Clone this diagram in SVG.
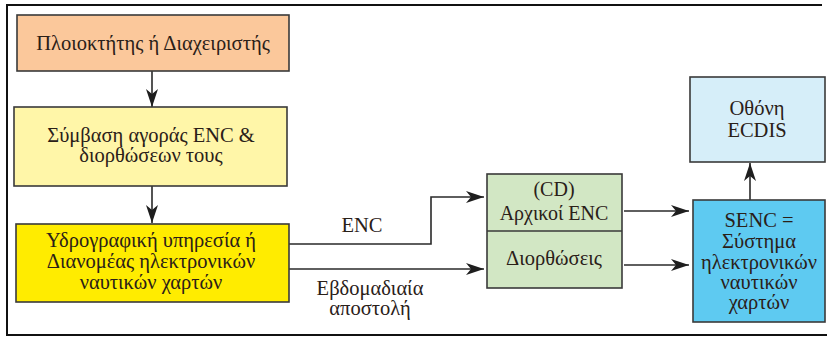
<svg xmlns="http://www.w3.org/2000/svg" width="827" height="338" viewBox="0 0 827 338">
<style>
.box{stroke:#3a3a3a;stroke-width:1.6}
.t{font-family:'Liberation Serif','Times New Roman',serif;font-size:20.5px;fill:#2a2018;text-anchor:middle}
.c{fill:none;stroke:#2a2a2a;stroke-width:1.6}
</style>
<defs>
<marker id="ah" markerWidth="20" markerHeight="12" refX="18" refY="6" orient="auto" markerUnits="userSpaceOnUse">
<path d="M0,0 L18,6 L0,12 L5,6 Z" fill="#1e1e1e"/>
</marker>
</defs>
<rect width="827" height="338" fill="#ffffff"/>
<g id="frame" fill="none" stroke="#111" stroke-width="2">
<path d="M822,5 H7 V335 H827"/>
</g>
<g id="connectors">
<path class="c" d="M152,71 V107" marker-end="url(#ah)"/>
<path class="c" d="M152,186 V223" marker-end="url(#ah)"/>
<path class="c" d="M289,244 H431 V197 H484" marker-end="url(#ah)"/>
<path class="c" d="M289,269 H484" marker-end="url(#ah)"/>
<path class="c" d="M624,211 H689" marker-end="url(#ah)"/>
<path class="c" d="M624,265 H689" marker-end="url(#ah)"/>
<path class="c" d="M750,200 V163" marker-end="url(#ah)"/>
<text class="t" x="362" y="232">ENC</text>
<text class="t" x="370" y="295">Εβδομαδιαία</text>
<text class="t" x="370" y="315">αποστολή</text>
</g>
<g id="owner">
<rect class="box" x="17" y="15" width="272" height="56" fill="#fbc89b"/>
<text class="t" x="153" y="50">Πλοιοκτήτης ή Διαχειριστής</text>
</g>
<g id="contract">
<rect class="box" x="14" y="107" width="273" height="79" fill="#fff6a8"/>
<text class="t" x="151" y="142">Σύμβαση αγοράς ENC &amp;</text>
<text class="t" x="151" y="162">διορθώσεων τους</text>
</g>
<g id="hydro">
<rect class="box" x="16" y="224" width="273" height="78" fill="#ffec00"/>
<text class="t" x="151" y="247">Υδρογραφική υπηρεσία ή</text>
<text class="t" x="151" y="268">Διανομέας ηλεκτρονικών</text>
<text class="t" x="151" y="289">ναυτικών χαρτών</text>
</g>
<g id="cd">
<rect class="box" x="487" y="174" width="135" height="114" fill="#d2e7c4"/>
<line class="box" x1="487" y1="231" x2="622" y2="231"/>
<text class="t" x="554" y="196" style="font-size:20px">(CD)</text>
<text class="t" x="554" y="220" style="font-size:20px">Αρχικοί ENC</text>
<text class="t" x="554" y="265">Διορθώσεις</text>
</g>
<g id="ecdis">
<rect class="box" x="690" y="77" width="135" height="85" fill="#d6eef9"/>
<text class="t" x="757" y="115">Οθόνη</text>
<text class="t" x="757" y="137">ECDIS</text>
</g>
<g id="senc">
<rect class="box" x="693" y="200" width="132" height="122" fill="#5ecaf1"/>
<text class="t" x="759" y="227">SENC =</text>
<text class="t" x="759" y="248">Σύστημα</text>
<text class="t" x="759" y="269">ηλεκτρονικών</text>
<text class="t" x="759" y="289">ναυτικών</text>
<text class="t" x="759" y="309">χαρτών</text>
</g>
</svg>
